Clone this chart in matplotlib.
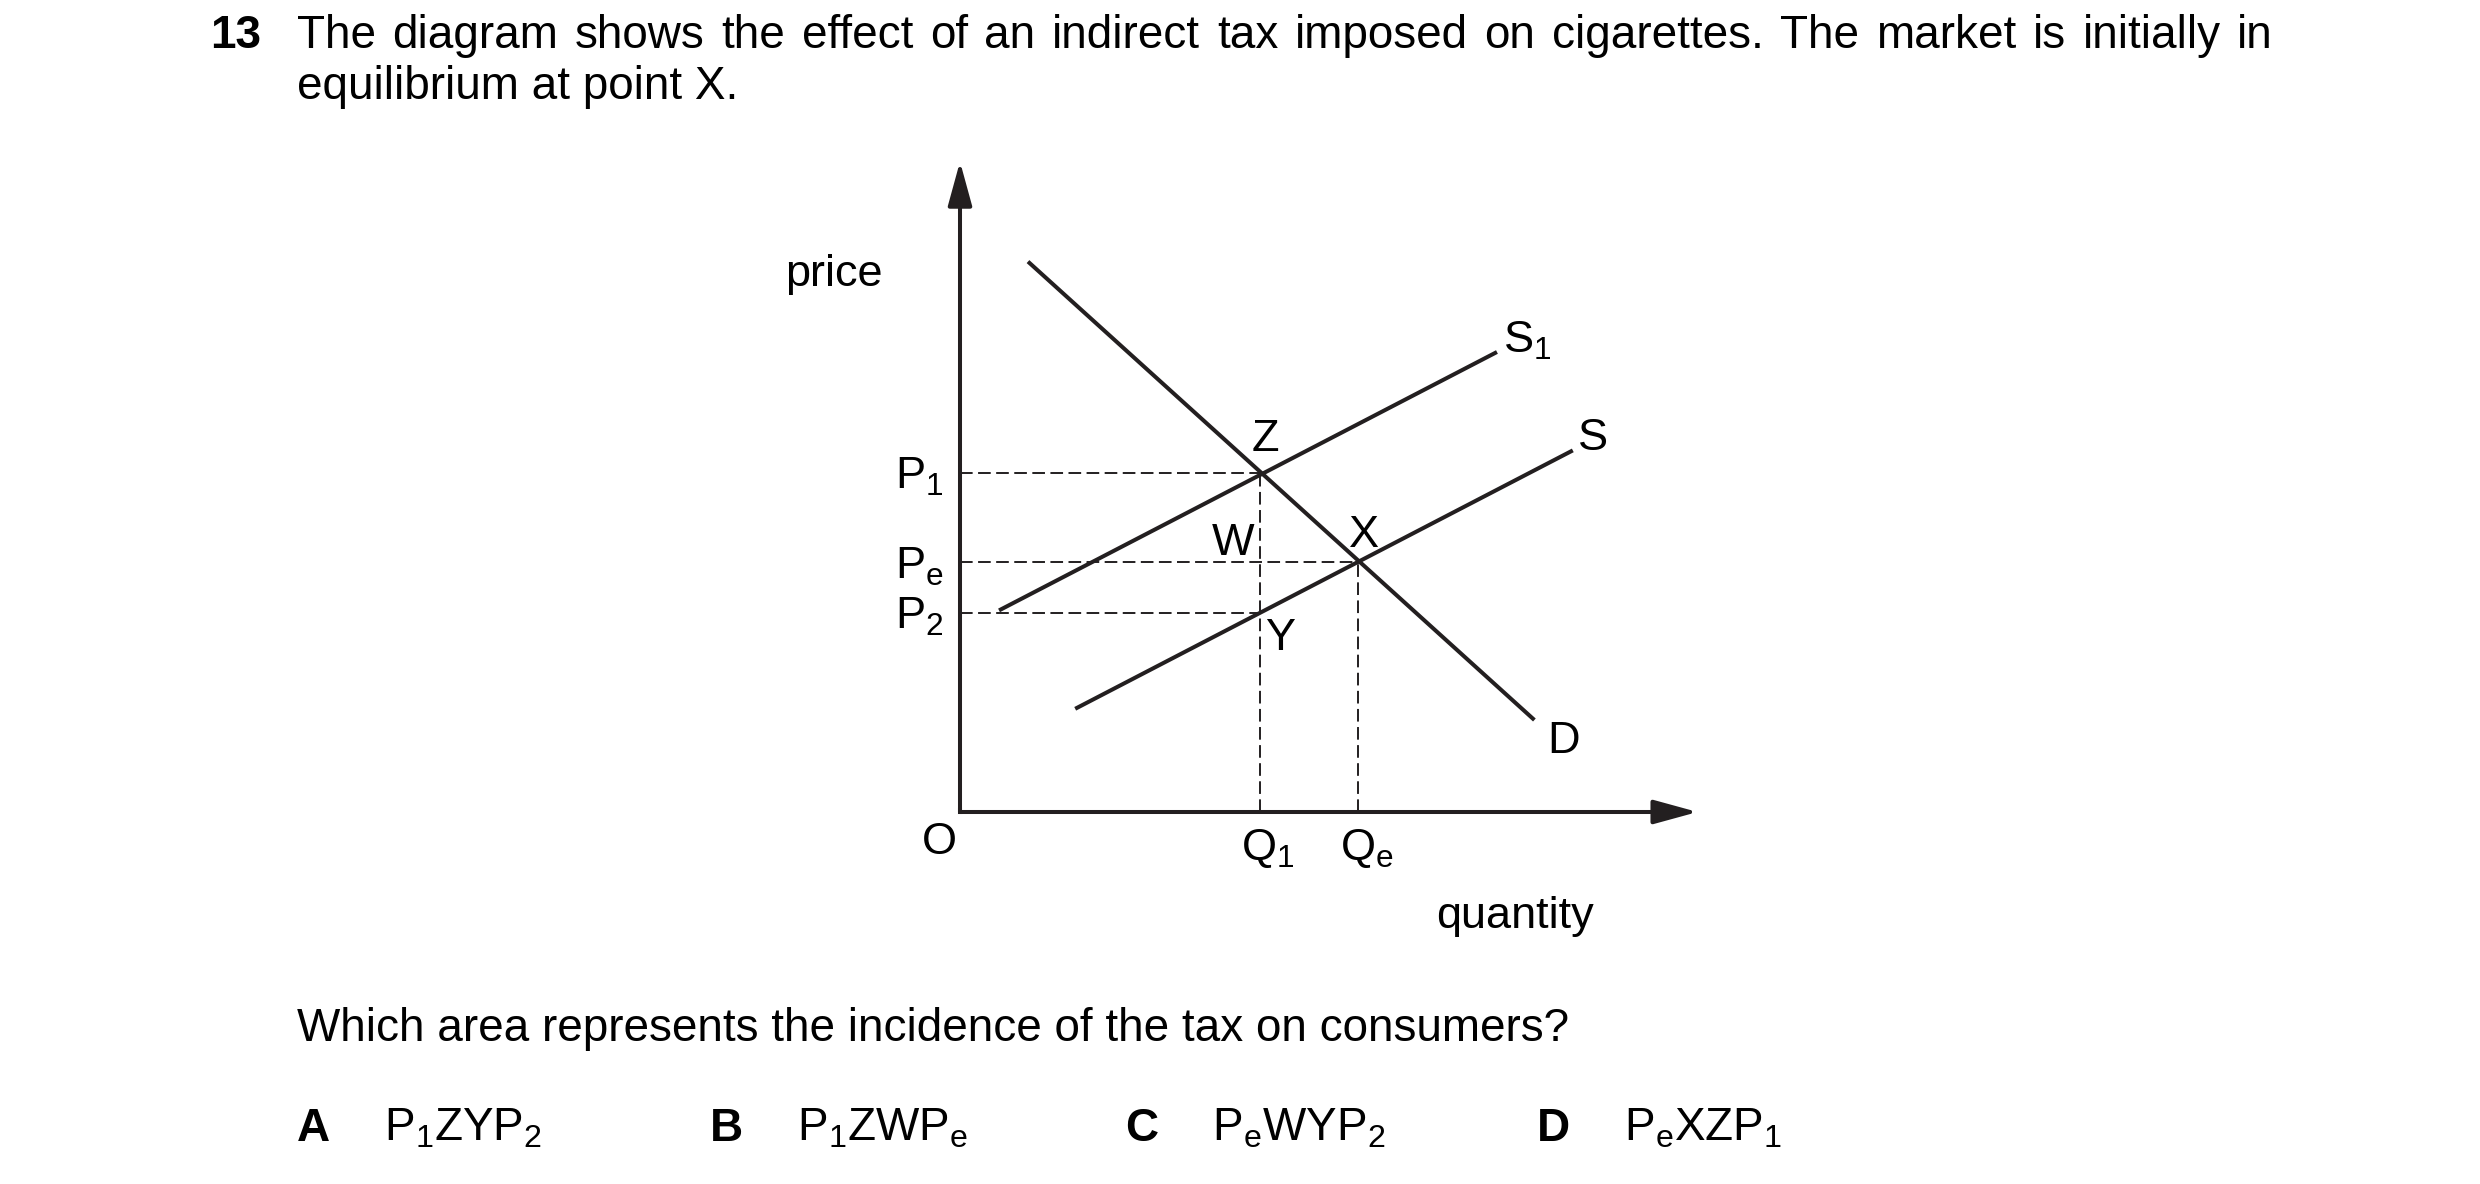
import matplotlib
matplotlib.use("Agg")
import matplotlib.pyplot as plt

plt.rcParams['font.family'] = ['Liberation Sans', 'DejaVu Sans']
plt.rcParams['mathtext.fontset'] = 'custom'
plt.rcParams['mathtext.rm'] = 'Liberation Sans'
plt.rcParams['mathtext.it'] = 'Liberation Sans'

INK = '#231f20'
W, H = 2480, 1184

# curves (quantity, price)
demand_q = [4.25, 35.9]
demand_p = [34.4, 5.75]
supply_q = [7.2, 38.3]
supply_p = [6.45, 22.6]
taxed_q = [2.44, 33.56]
taxed_p = [12.6, 28.75]

# equilibrium levels
Q1, Qe = 18.75, 24.9
P1, Pe, P2 = 21.2, 15.6, 12.45

x_max, y_max = 46.1, 40.65

question = ["The diagram shows the effect of an indirect tax imposed on cigarettes. The market is initially in",
            "equilibrium at point X."]
prompt = "Which area represents the incidence of the tax on consumers?"
option_keys = ['A', 'B', 'C', 'D']
option_text = [r'$\mathregular{P_1ZYP_2}$', r'$\mathregular{P_1ZWP_e}$',
               r'$\mathregular{P_eWYP_2}$', r'$\mathregular{P_eXZP_1}$']

fig = plt.figure(figsize=(W / 100, H / 100), dpi=100)
ax = fig.add_axes([0, 0, 1, 1])
# 16 px per unit, origin of the diagram at pixel (960, 812)
ax.set_xlim(-960 / 16, (W - 960) / 16)
ax.set_ylim(-(H - 812) / 16, 812 / 16)
ax.axis('off')

fs = 32.5

# axes with arrow heads
arrow = dict(arrowstyle='-|>,head_length=2.7,head_width=0.74', lw=2.9,
             color=INK, shrinkA=0, shrinkB=0, mutation_scale=10)
ax.annotate('', xy=(0, y_max), xytext=(0, 0), arrowprops=arrow)
ax.annotate('', xy=(x_max, 0), xytext=(0, 0), arrowprops=arrow)
ax.plot([0, 0], [0, 0.1], color=INK, lw=2.9, solid_capstyle='projecting')

# dashed guides
dash = dict(color=INK, lw=1.4, linestyle=(0, (6.5, 2.8)))
ax.plot([0, Q1], [P1, P1], **dash)
ax.plot([0, Qe], [Pe, Pe], **dash)
ax.plot([0, Q1], [P2, P2], **dash)
ax.plot([Q1, Q1], [0, P1], **dash)
ax.plot([Qe, Qe], [0, Pe], **dash)

# demand and supply curves
for q, p in [(demand_q, demand_p), (supply_q, supply_p), (taxed_q, taxed_p)]:
    ax.plot(q, p, color=INK, lw=2.9, solid_capstyle='butt')

# diagram labels
ax.text(-7.9, 32.9, 'price', fontsize=fs, ha='center', va='baseline')
ax.text(-1.3, -2.6, 'O', fontsize=fs, ha='center', va='baseline')
for lab, lev in [('P_1', P1), ('P_e', Pe), ('P_2', P2)]:
    ax.text(-1.0, lev - 1.0, r'$\mathregular{%s}$' % lab, fontsize=fs, ha='right', va='baseline')
ax.text(Q1 + 0.32, P1 + 1.36, 'Z', fontsize=fs, ha='center', va='baseline')
ax.text(Qe + 0.35, Pe + 0.96, 'X', fontsize=fs, ha='center', va='baseline')
ax.text(Q1 - 1.65, Pe + 0.46, 'W', fontsize=fs, ha='center', va='baseline')
ax.text(Q1 + 1.25, P2 - 2.35, 'Y', fontsize=fs, ha='center', va='baseline')
ax.text(Q1 + 0.5, -3.0, r'$\mathregular{Q_1}$', fontsize=fs, ha='center', va='baseline')
ax.text(Qe + 0.5, -3.0, r'$\mathregular{Q_e}$', fontsize=fs, ha='center', va='baseline')
ax.text(taxed_q[1] + 0.35, taxed_p[1] - 0.05, r'$\mathregular{S_1}$', fontsize=fs, ha='left', va='baseline')
ax.text(supply_q[1] + 0.3, supply_p[1], 'S', fontsize=fs, ha='left', va='baseline')
ax.text(demand_q[1] + 0.8, demand_p[1] - 2.05, 'D', fontsize=fs, ha='left', va='baseline')
ax.text(34.7, -7.25, 'quantity', fontsize=fs, ha='center', va='baseline')


def px(x, y):
    return x / W, 1 - y / H


def justified(line, left, right, y, **kw):
    # lay the words out so the line fills left..right, like the printed paper
    renderer = fig.canvas.get_renderer()
    words = line.split(' ')
    items = [fig.text(*px(left, y), w, va='baseline', **kw) for w in words]
    widths = [t.get_window_extent(renderer).width for t in items]
    gap = (right - left - sum(widths)) / (len(words) - 1)
    x = left
    for t, wd in zip(items, widths):
        t.set_position(px(x, y))
        x += wd + gap


# question text
fig.text(*px(210, 48), '13', fontsize=33, fontweight='bold', va='baseline')
justified(question[0], 297, 2273, 48, fontsize=33)
fig.text(*px(297, 99), question[1], fontsize=33, va='baseline')
fig.text(*px(297, 1041), prompt, fontsize=33, va='baseline')

key_x = [297, 710, 1125, 1537]
for k, t, x in zip(option_keys, option_text, key_x):
    fig.text(*px(x, 1141), k, fontsize=33, fontweight='bold', va='baseline')
    fig.text(*px(x + 87, 1141), t, fontsize=33, va='baseline')

fig.savefig('out.png', dpi=100)
